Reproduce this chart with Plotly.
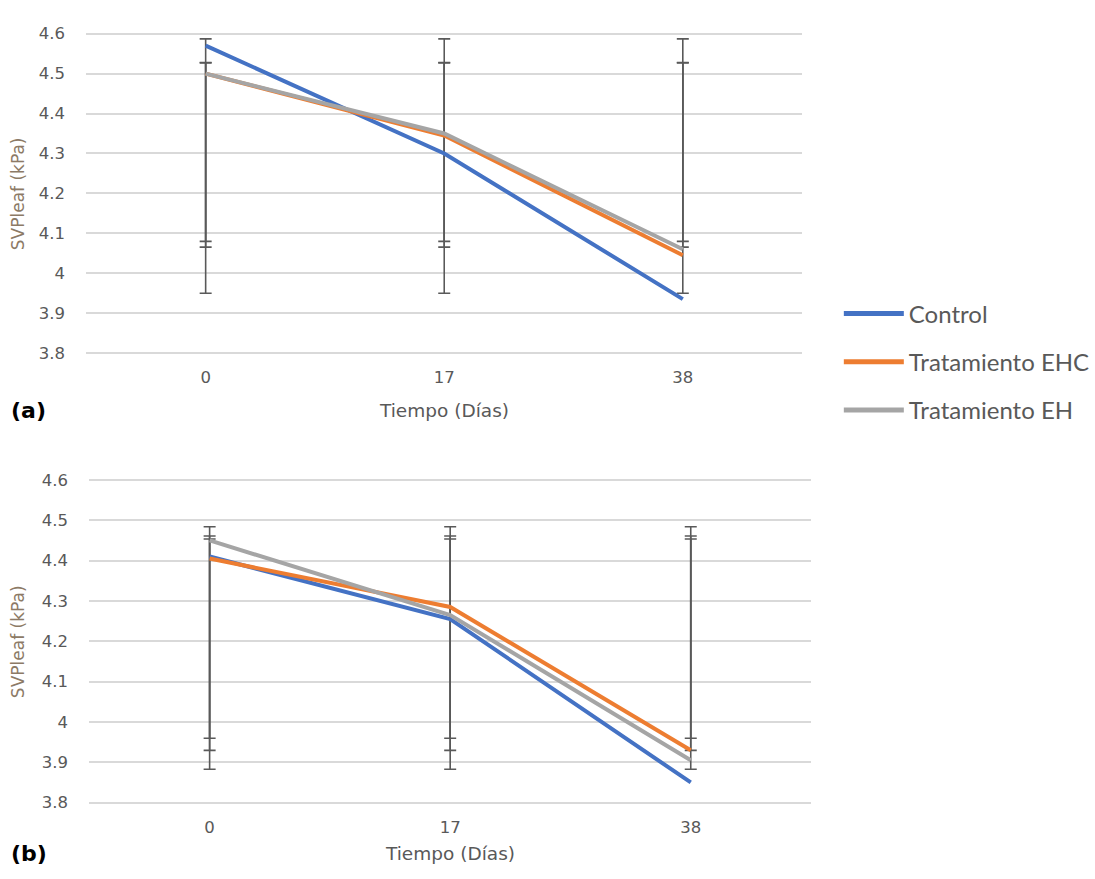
import numpy as np
import plotly.graph_objects as go

# Sampling days (categorical axis)
dias = ["0", "17", "38"]

series_names = ["Control", "Tratamiento EHC", "Tratamiento EH"]
series_colors = ["#4472C4", "#ED7D31", "#A5A5A5"]

# Panel (a): SVPleaf (kPa)
a_control = [4.57, 4.30, 3.935]
a_ehc = [4.50, 4.345, 4.045]
a_eh = [4.50, 4.35, 4.06]

# Panel (b): SVPleaf (kPa)
b_control = [4.41, 4.255, 3.85]
b_ehc = [4.405, 4.285, 3.93]
b_eh = [4.45, 4.265, 3.905]

y_ticks = [3.8, 3.9, 4.0, 4.1, 4.2, 4.3, 4.4, 4.5, 4.6]
y_tick_text = ["3.8", "3.9", "4", "4.1", "4.2", "4.3", "4.4", "4.5", "4.6"]

W, H = 1095, 879

# pixel boxes of the two plot areas: (left, right, top, bottom), label rows
panels = [
    dict(box=(87, 808, 25, 353), data=[a_control, a_ehc, a_eh], tag="(a)",
         legend=True, title_y=410, tag_y=410),
    dict(box=(90, 817, 480, 811.5), data=[b_control, b_ehc, b_eh], tag="(b)",
         legend=False, title_y=862, tag_y=862),
]

TICK_FONT = dict(family="DejaVu Sans", size=16.5, color="#595959")
TITLE_FONT = dict(family="DejaVu Sans", size=18.5, color="#595959")

fig = go.Figure()
annotations = []

for i, p in enumerate(panels):
    l, r, t, b = p["box"]
    xa = "x" if i == 0 else f"x{i + 1}"
    ya = "y" if i == 0 else f"y{i + 1}"

    # Standard-deviation error bars (Excel style: centred on the series mean)
    for vals in p["data"]:
        arr = np.array(vals)
        m = float(arr.mean())
        sd = float(arr.std(ddof=1))
        fig.add_trace(go.Scatter(
            x=dias, y=[m] * len(dias), xaxis=xa, yaxis=ya,
            mode="markers", marker=dict(size=1, opacity=0),
            error_y=dict(type="constant", value=sd, color="#595959",
                         thickness=1.6, width=6),
            showlegend=False, hoverinfo="skip",
        ))

    for name, color, vals in zip(series_names, series_colors, p["data"]):
        fig.add_trace(go.Scatter(
            x=dias, y=vals, xaxis=xa, yaxis=ya, mode="lines", name=name,
            line=dict(color=color, width=4), legendgroup=name,
            showlegend=p["legend"],
        ))

    fig.update_layout({
        ("xaxis" if i == 0 else f"xaxis{i + 1}"): dict(
            domain=[l / W, r / W], anchor=ya, type="category",
            range=[-0.5, 2.5], showgrid=False, showline=False, zeroline=False,
            ticks="outside", ticklen=8, tickcolor="rgba(0,0,0,0)",
            tickfont=TICK_FONT,
        ),
        ("yaxis" if i == 0 else f"yaxis{i + 1}"): dict(
            domain=[(H - b) / H, (H - t) / H], anchor=xa,
            range=[3.797, 4.603], tickvals=y_ticks, ticktext=y_tick_text,
            showgrid=True, gridcolor="#D9D9D9", gridwidth=1.5,
            showline=False, zeroline=False,
            ticks="outside", ticklen=17, tickcolor="rgba(0,0,0,0)",
            tickfont=TICK_FONT,
        ),
    })

    # axis titles and panel tag
    annotations.append(dict(
        text="Tiempo (Días)", x=(l + r) / 2 / W, y=(H - p["title_y"]) / H,
        xref="paper", yref="paper", showarrow=False, font=TITLE_FONT,
        xanchor="center", yanchor="middle",
    ))
    annotations.append(dict(
        text="SVPleaf (kPa)", x=18 / W, y=(H - (t + b) / 2) / H,
        xref="paper", yref="paper", showarrow=False, textangle=-90,
        font=dict(family="DejaVu Sans", size=17, color="#8C7A66"),
        xanchor="center", yanchor="middle",
    ))
    annotations.append(dict(
        text="<b>" + p["tag"] + "</b>", x=9 / W, y=(H - p["tag_y"]) / H,
        xref="paper", yref="paper", showarrow=False,
        font=dict(family="DejaVu Sans", size=22, color="#000000"),
        xanchor="left", yanchor="middle",
    ))

fig.update_layout(
    width=W, height=H,
    margin=dict(l=0, r=0, t=0, b=0),
    paper_bgcolor="white", plot_bgcolor="white",
    annotations=annotations,
    legend=dict(
        x=845 / W, y=(H - 289) / H, xanchor="left", yanchor="top",
        font=dict(family="Lato", size=24, color="#595959"),
        tracegroupgap=14, itemwidth=60, itemsizing="constant",
        bgcolor="rgba(0,0,0,0)",
    ),
)

fig.write_html("out.html")
